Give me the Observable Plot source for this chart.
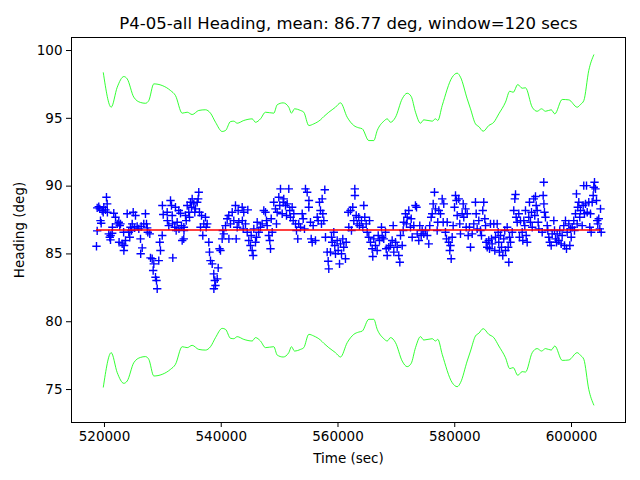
<!DOCTYPE html>
<html>
<head>
<meta charset="utf-8">
<script src="https://cdn.jsdelivr.net/npm/d3@7"></script>
<script src="https://cdn.jsdelivr.net/npm/@observablehq/plot@0.6"></script>
<style>
  html, body { margin: 0; padding: 0; background: #fff; }
  #chart { width: 640px; height: 480px; }
</style>
</head>
<body>
<div id="chart"></div>
<script>
const chartTitle = "P4-05-all Heading, mean: 86.77 deg, window=120 secs";
const meanHeading = 86.77;
const xTicks = [520000, 540000, 560000, 580000, 600000];
const yTicks = [75, 80, 85, 90, 95, 100];

// heading samples [time (sec), heading (deg)]
const headingSamples = [
  [518630,85.57],[518750,86.70],[518750,88.40],[519020,88.49],[519195,88.32],[519315,87.46],[519435,87.26],[519605,88.20],
  [519780,88.07],[519880,88.44],[520170,88.25],[520340,89.18],[520460,88.69],[520500,88.07],[520740,86.48],[520910,86.23],
  [521030,86.04],[521050,86.36],[521320,86.53],[521360,86.97],[521590,88.00],[521890,87.71],[522180,87.22],[522450,87.34],
  [522500,85.86],[522620,87.09],[522740,87.22],[523030,85.74],[523320,85.25],[523360,85.62],[523280,86.60],[523600,85.99],
  [523890,87.96],[524160,86.60],[524330,86.23],[524450,86.97],[524630,86.73],[524750,87.22],[524920,88.07],[525140,86.92],
  [525310,87.83],[525600,87.02],[525880,86.85],[526170,86.11],[526200,85.01],[526290,87.02],[526460,85.45],[526730,87.22],
  [527020,87.96],[527200,87.22],[527320,86.92],[527420,86.60],[527760,86.48],[527880,84.71],[528170,84.64],[528340,83.78],
  [528450,84.27],[528740,83.28],[528910,83.04],[529030,82.43],[529300,84.51],[529470,85.86],[529590,85.25],[529890,86.36],
  [529920,88.57],[530060,87.91],
  [530740,88.07],[530780,87.46],[531015,87.09],[531310,88.94],[531480,88.57],[531600,87.83],[531640,87.22],[531700,84.71],
  [532040,86.97],[532160,88.44],[532280,86.73],[532450,87.34],[532730,88.20],[532760,86.85],[533020,88.00],[533190,87.09],
  [533310,85.99],[533580,86.11],[533600,86.97],[533620,86.73],[533880,87.83],[534000,87.46],[534170,88.57],[534440,88.07],
  [534560,87.71],[534730,88.81],[534900,88.44],[535020,89.06],[535300,88.69],[535470,88.07],[535590,88.32],[535880,88.81],
  [536050,89.06],[536150,89.55],[536270,88.07],[536450,86.97],[536620,87.83],[536840,86.36],[537010,87.22],[537300,87.71],
  [537420,86.97],[537590,87.22],[537870,85.86],[537990,85.13],[538160,84.51],[538450,84.27],[538720,83.53],[538740,82.43],
  [538900,83.04],[539010,82.67],[539310,83.16],[539480,83.97],[539700,85.38],[539870,85.25],[540160,86.11],[540270,86.73],
  [540440,86.48],[540730,87.09],[541020,87.59],[541290,87.83],[541310,86.11],[541580,87.22],[541880,88.07],[542150,87.46],
  [542440,88.57],[542560,86.11],[542730,86.97],[542900,88.20],[543010,87.34],
  [543590,88.44],[543620,87.46],[543760,86.85],[543860,88.07],[544150,87.22],[544450,86.60],[544550,88.25],[544720,85.99],
  [545010,85.62],[545130,86.36],[545300,85.25],[545470,84.88],[545580,86.85],[545870,85.86],[546040,86.23],[546160,87.34],
  [546430,86.60],[546720,86.97],[547010,87.22],[547290,88.20],[547580,88.07],[547750,87.46],[547870,87.09],[548150,86.36],
  [548320,85.99],[548440,85.38],[548560,87.59],[548730,86.60],[549000,88.81],[549290,88.32],[549460,87.22],[549580,88.07],
  [549860,89.18],[550030,88.57],[550150,89.80],[550440,87.96],[550610,88.81],[550710,89.06],[551010,88.57],[551180,87.83],
  [551300,88.69],[551570,89.80],[551740,88.20],[551860,87.71],[552150,88.44],[552330,87.46],[552430,87.96],[552720,87.22],
  [552890,86.73],[553110,86.11],[553280,87.22],[553580,86.97],[553870,87.96],[554040,87.59],[554260,86.85],[554430,89.80],
  [554720,89.55],[555000,88.44],[555020,88.94],[555290,87.34],[555410,86.11],[555580,85.86],[555750,87.09],
  [556140,85.99],[556440,87.71],[556610,87.46],[556830,88.81],[557000,88.20],[557170,87.22],[557290,89.06],[557400,87.96],
  [557570,87.46],[557740,89.73],[557860,86.23],[558150,85.13],[558320,84.46],[558420,83.90],[558710,85.13],[558890,86.23],
  [559010,85.86],[559280,86.60],[559450,85.62],[559570,85.01],[559860,85.99],[560030,85.25],[560260,84.27],[560430,85.74],
  [560600,85.01],[560820,86.11],[560990,85.49],[561280,84.64],[561400,85.86],[561750,88.07],[561850,86.97],[562140,88.20],
  [562310,86.73],[562530,88.44],[562710,87.46],[562880,89.80],[562900,89.31],[563120,87.83],[563290,87.22],[563560,87.71],
  [563680,87.09],[564020,87.46],[564250,86.97],[564420,88.57],[564590,87.71],[564830,87.22],[565000,86.60],[565280,86.23],
  [565400,87.46],[565570,85.86],[565860,85.38],[565960,84.81],[566130,86.11],[566420,85.62],[566710,85.25],[566890,86.36],
  [567110,85.99],[567450,86.97],[567570,86.23],[567840,86.11],[568140,86.60],[568260,85.38],[568430,84.88],[568700,85.49],
  [568990,85.62],[569280,85.99],[569460,87.09],[569560,85.13],[569850,85.86],[570140,85.49],[570410,84.88],[570590,84.39],
  [570710,86.36],[571000,85.62],[571170,86.73],[571270,87.34],[571560,87.96],[571730,87.22],[571850,87.71],[572130,88.20],
  [572420,86.97],[572540,87.59],[572710,86.23],[572980,87.09],[573270,88.57],[573450,88.44],[573570,86.48],[573840,85.99],
  [574010,87.09],[574250,86.36],[574420,86.73],[574700,86.48],[574990,86.73],[575280,86.36],[575550,85.74],[575720,87.09],
  [575960,87.71],[576140,87.96],[576310,88.69],[576530,89.55],[576700,88.32],[576990,86.73],[577090,87.34],[577270,88.20],
  [577560,87.96],[577850,89.06],[578020,87.34],[578120,88.69],[578410,86.60],[578590,86.11],[578710,87.34],[578980,85.86],
  [579150,85.25],[579270,85.62],[579390,84.64],[579560,86.23],[579730,87.09],[579960,88.44],[580130,89.31],[580300,88.94],
  [580420,87.83],[580690,89.06],[580860,87.22],[580980,86.48],[581270,87.96],[581450,88.69],[581550,87.71],
  [581840,88.32],[581960,86.97],[582130,87.96],[582300,86.36],[582520,86.97],[582700,85.49],[582990,86.48],[583260,87.22],
  [583550,88.81],[583670,87.96],[583840,86.85],[584120,87.46],[584410,86.73],[584580,86.36],[584800,88.20],[584970,88.81],
  [585150,87.59],[585270,87.09],[585390,85.86],[585560,85.49],[585830,85.99],[585950,85.38],[586120,87.22],[586290,86.11],
  [586410,85.74],[586690,87.22],[586860,85.25],[586980,86.23],[587270,87.22],[587440,86.60],[587540,85.86],[587660,85.13],
  [587840,86.36],[588010,85.49],[588230,84.88],[588400,86.11],[588570,86.73],[588690,85.25],[588980,86.97],[589150,85.49],
  [589260,84.39],[589380,86.23],[589550,85.86],[589840,86.60],[590110,88.20],[590290,89.06],[590410,89.38],[590520,87.71],
  [590700,87.34],[590970,87.96],[591090,86.23],[591260,87.46],[591550,86.60],[591660,85.99],[591830,87.46],[592000,87.09],
  [592120,88.20],[592240,86.36],[592410,85.86],[592680,87.71],[592800,88.81],[592970,87.34],[593150,88.07],[593270,86.97],
  [593540,89.06],[593710,87.83],[593830,89.23],[593950,88.57],[594120,88.20],[594290,87.34],[594400,86.85],
  [594980,86.60],[595150,89.31],[595250,90.29],[595270,88.69],[595370,88.07],[595540,87.71],[595840,87.09],[595940,86.73],
  [596110,86.23],[596280,85.86],[596520,85.62],[596690,86.48],[596970,87.46],[597090,86.73],[597260,86.11],[597430,85.86],
  [597550,86.48],[597820,85.99],[597990,86.73],[598230,85.74],[598400,86.36],[598680,87.09],[598800,85.62],[598970,87.46],
  [599140,85.38],[599260,86.60],[599540,87.22],[599710,85.62],[599830,86.85],[599950,86.23],[600120,86.97],[600390,87.46],
  [600510,86.73],[600680,87.96],[600850,89.43],[600970,87.22],[601080,88.44],[601250,88.81],[601420,87.71],[601540,88.20],
  [601830,87.09],[602000,88.57],[602100,90.04],[602220,87.96],[602400,88.69],[602570,90.04],[602690,88.07],[602960,88.81],
  [603130,86.97],[603250,87.96],[603370,86.60],[603540,88.81],[603720,89.31],[603820,89.92],[603940,90.29],[604110,89.80],
  [604280,88.94],[604400,87.46],[604500,87.22],[604670,87.59],[604850,86.85],[604970,88.32],[605090,86.60]
];

// upper limit of the rolling band [time, heading]; the band is symmetric about the mean
const bandUpper = [
  [519800,98.36],[521150,95.82],[522180,97.29],[523310,98.08],[523890,97.91],[525020,96.56],[526170,96.17],[527020,96.11],
  [527590,96.31],[528450,97.54],[529880,97.42],[531310,97.05],[532160,96.68],[533310,95.38],[534170,95.45],[535020,95.28],
  [536150,95.58],[537300,95.63],[538160,95.38],[539020,94.71],[540160,94.03],[540730,94.10],[541590,94.76],[542150,94.79],
  [542730,94.64],[543860,94.84],[545300,94.96],[545870,94.71],[546720,94.96],[547580,95.45],[549000,95.38],[549590,96.00],
  [550610,96.14],[551570,95.82],[552030,95.38],[552550,95.70],[553580,95.58],[554140,95.45],[555000,94.47],[555850,94.59],
  [557000,94.89],[557570,95.13],[558420,95.45],[559570,95.82],[560430,96.14],[561580,95.08],[562710,94.47],[563560,94.30],
  [564150,94.23],[565280,93.36],[566130,93.36],[566720,94.10],[567850,94.79],[568430,94.96],[569000,94.71],[569850,95.08],
  [571000,96.44],[571850,96.85],[572540,96.61],[573280,95.45],[574130,94.64],[574700,94.89],[576140,94.79],[576700,94.96],
  [577100,94.84],[577850,95.94],[579560,98.03],[580420,98.33],[580990,98.03],[582130,96.44],[582700,95.70],[583550,94.59],
  [584120,94.39],[584870,94.05],[585830,94.47],[586690,94.71],[587550,95.33],[588690,96.19],[589430,97.00],[590010,96.92],
  [590800,97.49],[591550,97.22],[592120,97.25],[593270,95.82],[594120,95.52],[594860,95.70],[595550,95.52],[596520,95.63],
  [597140,95.33],[598410,96.39],[599540,96.36],[600980,95.82],[601540,96.02],[602110,96.31],[602960,98.53],[603820,99.68]
];
const bandLower = bandUpper.map(([t, h]) => [t, 2 * meanHeading - h]);

const tMin = d3.min(headingSamples, d => d[0]);
const tMax = d3.max(headingSamples, d => d[0]);

// thin "+" marker like matplotlib's
const thinPlus = {
  draw(context, size) {
    const r = Math.sqrt(size / Math.PI);
    context.moveTo(-r, 0); context.lineTo(r, 0);
    context.moveTo(0, -r); context.lineTo(0, r);
  }
};

const chart = Plot.plot({
  width: 640,
  height: 480,
  marginLeft: 71,
  marginRight: 15,
  marginTop: 37,
  marginBottom: 58,
  style: { fontFamily: "DejaVu Sans, sans-serif", background: "#fff", color: "#000" },
  x: { domain: [514350, 609250], ticks: xTicks, tickFormat: d3.format("d") },
  y: { domain: [72.57, 100.96], ticks: yTicks, tickFormat: d3.format("d") },
  marks: [
    Plot.dot(headingSamples, {x: d => d[0], y: d => d[1], symbol: thinPlus, r: 4.2, stroke: "#0000ff", strokeWidth: 1.4, fill: "none"}),
    Plot.ruleY([meanHeading], {x1: tMin, x2: tMax, stroke: "#ff0000", strokeWidth: 1.4}),
    Plot.line(bandUpper, {x: d => d[0], y: d => d[1], stroke: "#00ff00", strokeWidth: 0.8, curve: "monotone-x"}),
    Plot.line(bandLower, {x: d => d[0], y: d => d[1], stroke: "#00ff00", strokeWidth: 0.8, curve: "monotone-x"}),
    Plot.frame({stroke: "#000", strokeWidth: 1}),
    Plot.axisX({ticks: xTicks, tickFormat: d3.format("d"), tickSize: 5, tickPadding: 4, fontSize: 13.5,
      label: "Time (sec)", labelAnchor: "center", labelArrow: "none", labelOffset: 40}),
    Plot.axisY({ticks: yTicks, tickFormat: d3.format("d"), tickSize: 5, tickPadding: 4, fontSize: 13.5,
      label: "Heading (deg)", labelAnchor: "center", labelArrow: "none", labelOffset: 57}),
    Plot.text([chartTitle], {frameAnchor: "top", dy: -9, lineAnchor: "bottom", fontSize: 16.5, fill: "#000"})
  ]
});
document.getElementById("chart").appendChild(chart);
</script>
</body>
</html>
